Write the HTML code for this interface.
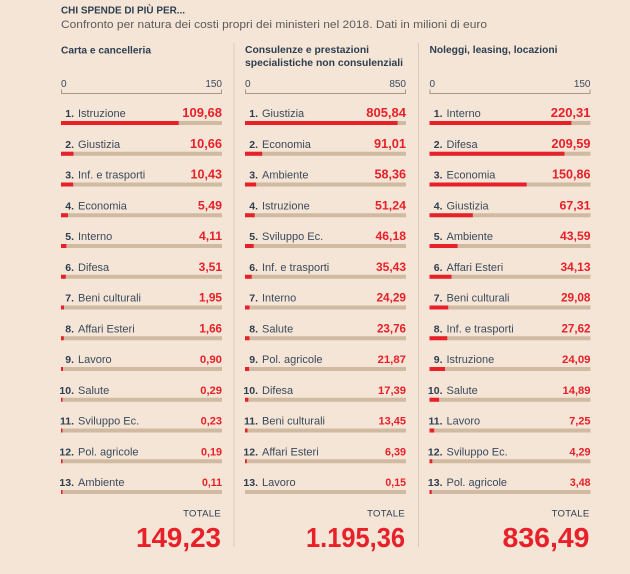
<!DOCTYPE html>
<html><head><meta charset="utf-8"><style>
html,body{margin:0;padding:0;background:#f5e5d6;}
svg{display:block;}
text{font-family:"Liberation Sans",sans-serif;}
.n{font-weight:bold;font-size:10.5px;fill:#2c3e50;text-anchor:end;}
.l{font-size:11px;fill:#3a4a5c;}
.v{font-weight:bold;fill:#e8202a;text-anchor:end;}
.ax{font-size:10px;fill:#3a4a5c;}
.h{font-weight:bold;font-size:10.5px;fill:#2c3e50;}
.bg{fill:#d0baa2;}
.rd{fill:#e8202a;}
.tot{font-size:9.5px;fill:#2c3e50;text-anchor:end;letter-spacing:0.3px;}
.big{font-weight:bold;font-size:28px;fill:#e8202a;text-anchor:end;}
</style></head><body>
<svg width="630" height="574" viewBox="0 0 630 574" xmlns="http://www.w3.org/2000/svg">
<rect x="0" y="0" width="630" height="574" fill="#f5e5d6"/>
<text x="61" y="13.5" font-weight="bold" font-size="10px" fill="#2c3e50" textLength="124" lengthAdjust="spacingAndGlyphs">CHI SPENDE DI PIÙ PER...</text>
<text x="61" y="28" font-size="11px" fill="#5b5b5b" textLength="426" lengthAdjust="spacingAndGlyphs">Confronto per natura dei costi propri dei ministeri nel 2018. Dati in milioni di euro</text>

<line x1="234" y1="43" x2="234" y2="547" stroke="#dccab8" stroke-width="1"/>
<line x1="418.5" y1="43" x2="418.5" y2="547" stroke="#dccab8" stroke-width="1"/>

<!-- Column 1 -->
<g transform="translate(61,0)">
<text class="h" x="0" y="53.5" textLength="90" lengthAdjust="spacingAndGlyphs">Carta e cancelleria</text>
<text class="ax" x="0" y="87">0</text>
<text class="ax" x="161" y="87" text-anchor="end">150</text>
<path d="M0.5 89.5 V93.5 H160.5 V89.5" fill="none" stroke="#a69886" stroke-width="1"/>

<text class="n" x="13" y="117">1.</text><text class="l" x="17" y="117">Istruzione</text><text class="v" x="161" y="117" font-size="13px">109,68</text>
<rect class="bg" x="0" y="121" width="161" height="4"/><rect class="rd" x="0" y="121" width="117.7" height="4"/>
<text class="n" x="13" y="147.75">2.</text><text class="l" x="17" y="147.75">Giustizia</text><text class="v" x="161" y="147.75" font-size="12.8px">10,66</text>
<rect class="bg" x="0" y="151.75" width="161" height="4"/><rect class="rd" x="0" y="151.75" width="12.5" height="4"/>
<text class="n" x="13" y="178.5">3.</text><text class="l" x="17" y="178.5">Inf. e trasporti</text><text class="v" x="161" y="178.5" font-size="12.6px">10,43</text>
<rect class="bg" x="0" y="182.5" width="161" height="4"/><rect class="rd" x="0" y="182.5" width="12.2" height="4"/>
<text class="n" x="13" y="209.25">4.</text><text class="l" x="17" y="209.25">Economia</text><text class="v" x="161" y="209.25" font-size="12.4px">5,49</text>
<rect class="bg" x="0" y="213.25" width="161" height="4"/><rect class="rd" x="0" y="213.25" width="7" height="4"/>
<text class="n" x="13" y="240">5.</text><text class="l" x="17" y="240">Interno</text><text class="v" x="161" y="240" font-size="12.2px">4,11</text>
<rect class="bg" x="0" y="244" width="161" height="4"/><rect class="rd" x="0" y="244" width="5.4" height="4"/>
<text class="n" x="13" y="270.75">6.</text><text class="l" x="17" y="270.75">Difesa</text><text class="v" x="161" y="270.75" font-size="12px">3,51</text>
<rect class="bg" x="0" y="274.75" width="161" height="4"/><rect class="rd" x="0" y="274.75" width="4.8" height="4"/>
<text class="n" x="13" y="301.5">7.</text><text class="l" x="17" y="301.5">Beni culturali</text><text class="v" x="161" y="301.5" font-size="11.8px">1,95</text>
<rect class="bg" x="0" y="305.5" width="161" height="4"/><rect class="rd" x="0" y="305.5" width="3" height="4"/>
<text class="n" x="13" y="332.25">8.</text><text class="l" x="17" y="332.25">Affari Esteri</text><text class="v" x="161" y="332.25" font-size="11.6px">1,66</text>
<rect class="bg" x="0" y="336.25" width="161" height="4"/><rect class="rd" x="0" y="336.25" width="2.8" height="4"/>
<text class="n" x="13" y="363">9.</text><text class="l" x="17" y="363">Lavoro</text><text class="v" x="161" y="363" font-size="11.4px">0,90</text>
<rect class="bg" x="0" y="367" width="161" height="4"/><rect class="rd" x="0" y="367" width="2" height="4"/>
<text class="n" x="13" y="393.75">10.</text><text class="l" x="17" y="393.75">Salute</text><text class="v" x="161" y="393.75" font-size="11.2px">0,29</text>
<rect class="bg" x="0" y="397.75" width="161" height="4"/><rect class="rd" x="0" y="397.75" width="1.5" height="4"/>
<text class="n" x="13" y="424.5">11.</text><text class="l" x="17" y="424.5">Sviluppo Ec.</text><text class="v" x="161" y="424.5" font-size="11px">0,23</text>
<rect class="bg" x="0" y="428.5" width="161" height="4"/><rect class="rd" x="0" y="428.5" width="1.5" height="4"/>
<text class="n" x="13" y="455.25">12.</text><text class="l" x="17" y="455.25">Pol. agricole</text><text class="v" x="161" y="455.25" font-size="10.8px">0,19</text>
<rect class="bg" x="0" y="459.25" width="161" height="4"/><rect class="rd" x="0" y="459.25" width="1.5" height="4"/>
<text class="n" x="13" y="486">13.</text><text class="l" x="17" y="486">Ambiente</text><text class="v" x="161" y="486" font-size="10.6px">0,11</text>
<rect class="bg" x="0" y="490" width="161" height="4"/><rect class="rd" x="0" y="490" width="1.5" height="4"/>

<text class="tot" x="160" y="516.5">TOTALE</text>
<text class="big" x="160" y="547" textLength="85" lengthAdjust="spacingAndGlyphs">149,23</text>
</g>

<!-- Column 2 -->
<g transform="translate(245,0)">
<text class="h" x="0" y="53" textLength="124" lengthAdjust="spacingAndGlyphs">Consulenze e prestazioni</text>
<text class="h" x="0" y="66" textLength="158" lengthAdjust="spacingAndGlyphs">specialistiche non consulenziali</text>
<text class="ax" x="0" y="87">0</text>
<text class="ax" x="161" y="87" text-anchor="end">850</text>
<path d="M0.5 89.5 V93.5 H160.5 V89.5" fill="none" stroke="#a69886" stroke-width="1"/>

<text class="n" x="13" y="117">1.</text><text class="l" x="17" y="117">Giustizia</text><text class="v" x="161" y="117" font-size="13px">805,84</text>
<rect class="bg" x="0" y="121" width="161" height="4"/><rect class="rd" x="0" y="121" width="152.6" height="4"/>
<text class="n" x="13" y="147.75">2.</text><text class="l" x="17" y="147.75">Economia</text><text class="v" x="161" y="147.75" font-size="12.8px">91,01</text>
<rect class="bg" x="0" y="151.75" width="161" height="4"/><rect class="rd" x="0" y="151.75" width="17.2" height="4"/>
<text class="n" x="13" y="178.5">3.</text><text class="l" x="17" y="178.5">Ambiente</text><text class="v" x="161" y="178.5" font-size="12.6px">58,36</text>
<rect class="bg" x="0" y="182.5" width="161" height="4"/><rect class="rd" x="0" y="182.5" width="11.1" height="4"/>
<text class="n" x="13" y="209.25">4.</text><text class="l" x="17" y="209.25">Istruzione</text><text class="v" x="161" y="209.25" font-size="12.4px">51,24</text>
<rect class="bg" x="0" y="213.25" width="161" height="4"/><rect class="rd" x="0" y="213.25" width="9.7" height="4"/>
<text class="n" x="13" y="240">5.</text><text class="l" x="17" y="240">Sviluppo Ec.</text><text class="v" x="161" y="240" font-size="12.2px">46,18</text>
<rect class="bg" x="0" y="244" width="161" height="4"/><rect class="rd" x="0" y="244" width="8.7" height="4"/>
<text class="n" x="13" y="270.75">6.</text><text class="l" x="17" y="270.75">Inf. e trasporti</text><text class="v" x="161" y="270.75" font-size="12px">35,43</text>
<rect class="bg" x="0" y="274.75" width="161" height="4"/><rect class="rd" x="0" y="274.75" width="6.7" height="4"/>
<text class="n" x="13" y="301.5">7.</text><text class="l" x="17" y="301.5">Interno</text><text class="v" x="161" y="301.5" font-size="11.8px">24,29</text>
<rect class="bg" x="0" y="305.5" width="161" height="4"/><rect class="rd" x="0" y="305.5" width="4.6" height="4"/>
<text class="n" x="13" y="332.25">8.</text><text class="l" x="17" y="332.25">Salute</text><text class="v" x="161" y="332.25" font-size="11.6px">23,76</text>
<rect class="bg" x="0" y="336.25" width="161" height="4"/><rect class="rd" x="0" y="336.25" width="4.5" height="4"/>
<text class="n" x="13" y="363">9.</text><text class="l" x="17" y="363">Pol. agricole</text><text class="v" x="161" y="363" font-size="11.4px">21,87</text>
<rect class="bg" x="0" y="367" width="161" height="4"/><rect class="rd" x="0" y="367" width="4.1" height="4"/>
<text class="n" x="13" y="393.75">10.</text><text class="l" x="17" y="393.75">Difesa</text><text class="v" x="161" y="393.75" font-size="11.2px">17,39</text>
<rect class="bg" x="0" y="397.75" width="161" height="4"/><rect class="rd" x="0" y="397.75" width="3.3" height="4"/>
<text class="n" x="13" y="424.5">11.</text><text class="l" x="17" y="424.5">Beni culturali</text><text class="v" x="161" y="424.5" font-size="11px">13,45</text>
<rect class="bg" x="0" y="428.5" width="161" height="4"/><rect class="rd" x="0" y="428.5" width="2.5" height="4"/>
<text class="n" x="13" y="455.25">12.</text><text class="l" x="17" y="455.25">Affari Esteri</text><text class="v" x="161" y="455.25" font-size="10.8px">6,39</text>
<rect class="bg" x="0" y="459.25" width="161" height="4"/><rect class="rd" x="0" y="459.25" width="1.8" height="4"/>
<text class="n" x="13" y="486">13.</text><text class="l" x="17" y="486">Lavoro</text><text class="v" x="161" y="486" font-size="10.6px">0,15</text>
<rect class="bg" x="0" y="490" width="161" height="4"/>

<text class="tot" x="160" y="516.5">TOTALE</text>
<text class="big" x="160" y="547" textLength="99" lengthAdjust="spacingAndGlyphs">1.195,36</text>
</g>

<!-- Column 3 -->
<g transform="translate(429.5,0)">
<text class="h" x="0" y="53" textLength="128" lengthAdjust="spacingAndGlyphs">Noleggi, leasing, locazioni</text>
<text class="ax" x="0" y="87">0</text>
<text class="ax" x="161" y="87" text-anchor="end">150</text>
<path d="M0.5 89.5 V93.5 H160.5 V89.5" fill="none" stroke="#a69886" stroke-width="1"/>

<text class="n" x="13" y="117">1.</text><text class="l" x="17" y="117">Interno</text><text class="v" x="161" y="117" font-size="13px">220,31</text>
<rect class="bg" x="0" y="121" width="161" height="4"/><rect class="rd" x="0" y="121" width="141.9" height="4"/>
<text class="n" x="13" y="147.75">2.</text><text class="l" x="17" y="147.75">Difesa</text><text class="v" x="161" y="147.75" font-size="12.8px">209,59</text>
<rect class="bg" x="0" y="151.75" width="161" height="4"/><rect class="rd" x="0" y="151.75" width="135" height="4"/>
<text class="n" x="13" y="178.5">3.</text><text class="l" x="17" y="178.5">Economia</text><text class="v" x="161" y="178.5" font-size="12.6px">150,86</text>
<rect class="bg" x="0" y="182.5" width="161" height="4"/><rect class="rd" x="0" y="182.5" width="97.2" height="4"/>
<text class="n" x="13" y="209.25">4.</text><text class="l" x="17" y="209.25">Giustizia</text><text class="v" x="161" y="209.25" font-size="12.4px">67,31</text>
<rect class="bg" x="0" y="213.25" width="161" height="4"/><rect class="rd" x="0" y="213.25" width="43.3" height="4"/>
<text class="n" x="13" y="240">5.</text><text class="l" x="17" y="240">Ambiente</text><text class="v" x="161" y="240" font-size="12.2px">43,59</text>
<rect class="bg" x="0" y="244" width="161" height="4"/><rect class="rd" x="0" y="244" width="28.1" height="4"/>
<text class="n" x="13" y="270.75">6.</text><text class="l" x="17" y="270.75">Affari Esteri</text><text class="v" x="161" y="270.75" font-size="12px">34,13</text>
<rect class="bg" x="0" y="274.75" width="161" height="4"/><rect class="rd" x="0" y="274.75" width="22" height="4"/>
<text class="n" x="13" y="301.5">7.</text><text class="l" x="17" y="301.5">Beni culturali</text><text class="v" x="161" y="301.5" font-size="11.8px">29,08</text>
<rect class="bg" x="0" y="305.5" width="161" height="4"/><rect class="rd" x="0" y="305.5" width="18.7" height="4"/>
<text class="n" x="13" y="332.25">8.</text><text class="l" x="17" y="332.25">Inf. e trasporti</text><text class="v" x="161" y="332.25" font-size="11.6px">27,62</text>
<rect class="bg" x="0" y="336.25" width="161" height="4"/><rect class="rd" x="0" y="336.25" width="17.8" height="4"/>
<text class="n" x="13" y="363">9.</text><text class="l" x="17" y="363">Istruzione</text><text class="v" x="161" y="363" font-size="11.4px">24,09</text>
<rect class="bg" x="0" y="367" width="161" height="4"/><rect class="rd" x="0" y="367" width="15.5" height="4"/>
<text class="n" x="13" y="393.75">10.</text><text class="l" x="17" y="393.75">Salute</text><text class="v" x="161" y="393.75" font-size="11.2px">14,89</text>
<rect class="bg" x="0" y="397.75" width="161" height="4"/><rect class="rd" x="0" y="397.75" width="9.6" height="4"/>
<text class="n" x="13" y="424.5">11.</text><text class="l" x="17" y="424.5">Lavoro</text><text class="v" x="161" y="424.5" font-size="11px">7,25</text>
<rect class="bg" x="0" y="428.5" width="161" height="4"/><rect class="rd" x="0" y="428.5" width="4.7" height="4"/>
<text class="n" x="13" y="455.25">12.</text><text class="l" x="17" y="455.25">Sviluppo Ec.</text><text class="v" x="161" y="455.25" font-size="10.8px">4,29</text>
<rect class="bg" x="0" y="459.25" width="161" height="4"/><rect class="rd" x="0" y="459.25" width="2.8" height="4"/>
<text class="n" x="13" y="486">13.</text><text class="l" x="17" y="486">Pol. agricole</text><text class="v" x="161" y="486" font-size="10.6px">3,48</text>
<rect class="bg" x="0" y="490" width="161" height="4"/><rect class="rd" x="0" y="490" width="2.2" height="4"/>

<text class="tot" x="160" y="516.5">TOTALE</text>
<text class="big" x="160" y="547" textLength="87" lengthAdjust="spacingAndGlyphs">836,49</text>
</g>
</svg>
</body></html>
